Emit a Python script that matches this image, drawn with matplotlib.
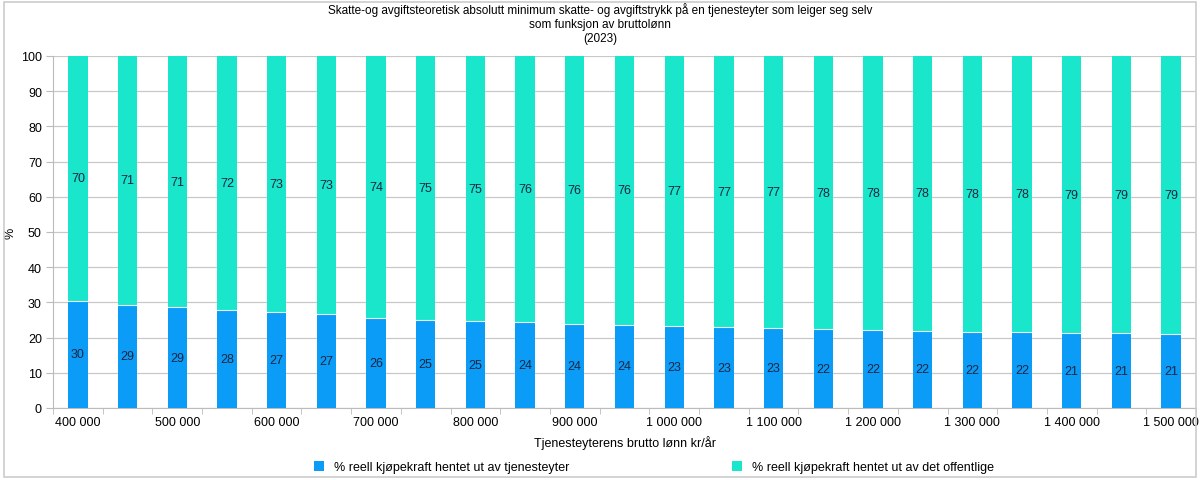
import matplotlib
matplotlib.use("Agg")
import matplotlib.pyplot as plt
from matplotlib.patches import Rectangle
import numpy as np

salaries = list(range(400000, 1500001, 50000))
tjenesteyter = [30.4, 29.3, 28.6, 27.8, 27.4, 26.8, 25.7, 25.1, 24.7, 24.3, 23.9, 23.6,
                23.3, 23.0, 22.7, 22.4, 22.1, 21.9, 21.7, 21.6, 21.3, 21.2, 20.9]
offentlige = [100 - v for v in tjenesteyter]
series_names = ["% reell kjøpekraft hentet ut av tjenesteyter",
                "% reell kjøpekraft hentet ut av det offentlige"]
title = ("Skatte-og avgiftsteoretisk absolutt minimum skatte- og avgiftstrykk på en tjenesteyter som leiger seg selv\n"
         "som funksjon av bruttolønn\n(2023)")

def fmt(v):
    return f"{v:,}".replace(",", " ")

blue = "#0a9cf7"
teal = "#1ae6cc"
txt = "#1b2640"

plt.rcParams['font.family'] = ['Liberation Sans', 'DejaVu Sans']
fig = plt.figure(figsize=(12, 4.81), dpi=100)
ax = fig.add_axes([53/1200, 1-409/481, (1196-53)/1200, (409-57)/481])

x = np.arange(len(salaries))
w = 0.39
ax.bar(x, tjenesteyter, w, color=blue, label=series_names[0], zorder=3)
ax.bar(x, offentlige, w, bottom=tjenesteyter, color=teal, label=series_names[1], zorder=3,
       edgecolor="white", linewidth=0)
for xi, b in zip(x, tjenesteyter):
    ax.plot([xi - w/2, xi + w/2], [b, b], color="#e8fbff", lw=0.8, zorder=4)

for xi, b, t in zip(x, tjenesteyter, offentlige):
    ax.text(xi, b/2, f"{round(b)}", ha="center", va="center", fontsize=9, color=txt, zorder=5)
    ax.text(xi, b + t/2, f"{round(t)}", ha="center", va="center", fontsize=9, color=txt, zorder=5)

ax.set_xlim(-0.5, len(salaries) - 0.5)
ax.set_ylim(0, 100)
ax.set_yticks(range(0, 101, 10))
ax.set_xticks(x[::2])
ax.set_xticklabels([fmt(s) for s in salaries[::2]], fontsize=9)
ax.set_xticks(np.arange(-0.5, len(salaries), 1), minor=True)
ax.tick_params(axis="x", which="major", length=0, pad=6)
ax.tick_params(axis="x", which="minor", length=4, color="#bbbbbb")
ax.tick_params(axis="y", length=5, color="#bbbbbb", labelsize=9, pad=3)
ax.grid(axis="y", color="#c8c8c8", lw=0.9, zorder=0)
for s in ["top", "right"]:
    ax.spines[s].set_visible(False)
ax.spines["left"].set_color("#bbbbbb")
ax.spines["bottom"].set_color("#bbbbbb")

ax.set_xlabel("Tjenesteyterens brutto lønn kr/år", fontsize=9)
ax.xaxis.set_label_coords(0.5, (409-443)/352, transform=ax.transAxes)
ax.xaxis.label.set_va("center")
ax.set_ylabel("%", fontsize=9)
ax.yaxis.set_label_coords((11-53)/1143, 0.5, transform=ax.transAxes)
ax.yaxis.label.set_va("center")
fig.text(0.5, 1 - 3/481, title, ha="center", va="top", fontsize=8.5, linespacing=1.25)

handles, labels = ax.get_legend_handles_labels()
fig.legend([handles[0]], [labels[0]], loc="center left", bbox_to_anchor=(303/1200, 1-468/481),
           frameon=False, fontsize=9, handlelength=0.8, handleheight=0.8, handletextpad=0.8)
fig.legend([handles[1]], [labels[1]], loc="center left", bbox_to_anchor=(721/1200, 1-468/481),
           frameon=False, fontsize=9, handlelength=0.8, handleheight=0.8, handletextpad=0.8)

fig.patches.append(Rectangle((4/1200, 3/481), 1192/1200, 475/481, transform=fig.transFigure,
                             fill=False, edgecolor="#cccccc", lw=1.2))
fig.savefig("out.png", dpi=100)
